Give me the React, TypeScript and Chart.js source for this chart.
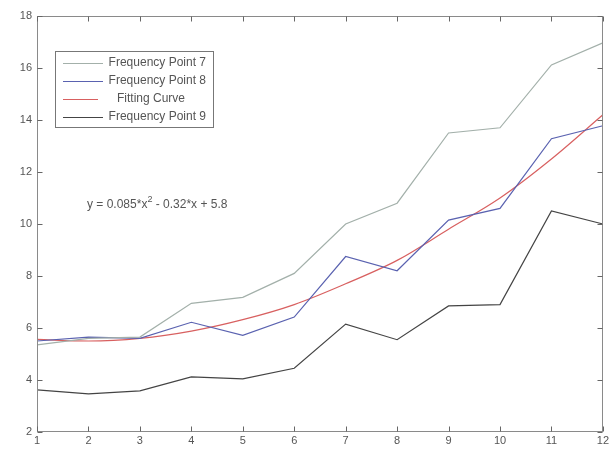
import React, { useEffect, useRef } from "react";
import { Chart, registerables } from "chart.js";
Chart.register(...registerables);

const xValues = [1, 2, 3, 4, 5, 6, 7, 8, 9, 10, 11, 12];
const freqPoint7 = [5.35, 5.6, 5.65, 6.95, 7.18, 8.1, 10.0, 10.8, 13.5, 13.7, 16.12, 16.97];
const freqPoint8 = [5.5, 5.65, 5.6, 6.22, 5.72, 6.42, 8.75, 8.2, 10.15, 10.6, 13.28, 13.78];
const fittingCurve = [5.56, 5.5, 5.6, 5.88, 6.32, 6.9, 7.7, 8.6, 9.8, 11.0, 12.5, 14.2];
const freqPoint9 = [3.62, 3.47, 3.58, 4.12, 4.04, 4.45, 6.15, 5.55, 6.85, 6.9, 10.5, 10.0];
const seriesLabels = ["Frequency Point 7", "Frequency Point 8", "Fitting Curve", "Frequency Point 9"];
const seriesColors = ["#a3b0aa", "#5a62b0", "#d86060", "#444444"];
const yTicks = [2, 4, 6, 8, 10, 12, 14, 16, 18];
const equationMain = "y = 0.085*x";
const equationSup = "2";
const equationRest = " - 0.32*x + 5.8";

const FONT = "'Liberation Sans', Arial, sans-serif";
const TEXT = "#555";

const frameAndExtras = {
  id: "frameAndExtras",
  afterDraw(chart: any) {
    const ctx = chart.ctx;
    const a = chart.chartArea;
    const xs = chart.scales.x;
    const ys = chart.scales.y;
    ctx.save();
    ctx.strokeStyle = "#8a8a8a";
    ctx.lineWidth = 1;
    const L = Math.round(a.left) + 0.5, R = Math.round(a.right) - 0.5;
    const T = Math.round(a.top) + 0.5, B = Math.round(a.bottom) - 0.5;
    ctx.strokeRect(L, T, R - L, B - T);
    ctx.strokeStyle = "#666";
    xValues.forEach((v) => {
      const px = Math.round(xs.getPixelForValue(v)) + 0.5;
      ctx.beginPath();
      ctx.moveTo(px, B); ctx.lineTo(px, B - 5);
      ctx.moveTo(px, T); ctx.lineTo(px, T + 5);
      ctx.stroke();
    });
    yTicks.forEach((v) => {
      const py = Math.round(ys.getPixelForValue(v)) + 0.5;
      ctx.beginPath();
      ctx.moveTo(L, py); ctx.lineTo(L + 5, py);
      ctx.moveTo(R, py); ctx.lineTo(R - 5, py);
      ctx.stroke();
    });

    // legend
    const bx = 55.5, by = 51.5, bw = 158, bh = 76;
    ctx.fillStyle = "#fff";
    ctx.fillRect(bx, by, bw, bh);
    ctx.strokeStyle = "#777";
    ctx.strokeRect(bx, by, bw, bh);
    ctx.font = `12px ${FONT}`;
    ctx.textBaseline = "middle";
    const rows = [63, 81, 99, 117];
    seriesLabels.forEach((label, i) => {
      const y = rows[i] + 0.5;
      ctx.strokeStyle = seriesColors[i];
      ctx.lineWidth = 1.2;
      ctx.beginPath();
      const centered = label === "Fitting Curve";
      ctx.moveTo(63, y); ctx.lineTo(centered ? 98 : 103, y);
      ctx.stroke();
      ctx.fillStyle = TEXT;
      if (centered) {
        ctx.textAlign = "center";
        ctx.fillText(label, 151, rows[i]);
      } else {
        ctx.textAlign = "right";
        ctx.fillText(label, 206, rows[i]);
      }
    });

    // equation
    ctx.fillStyle = TEXT;
    ctx.textAlign = "left";
    ctx.font = `12px ${FONT}`;
    let x0 = 87;
    ctx.fillText(equationMain, x0, 205);
    x0 += ctx.measureText(equationMain).width;
    ctx.font = `9px ${FONT}`;
    ctx.fillText(equationSup, x0, 200);
    x0 += ctx.measureText(equationSup).width;
    ctx.font = `12px ${FONT}`;
    ctx.fillText(equationRest, x0, 205);
    ctx.restore();
  },
};

export default function App() {
  const ref = useRef<HTMLCanvasElement>(null);
  useEffect(() => {
    if (!ref.current) return;
    const mk = (i: number, vals: number[]) => ({
      label: seriesLabels[i],
      data: xValues.map((x, j) => ({ x, y: vals[j] })),
      borderColor: seriesColors[i],
      backgroundColor: seriesColors[i],
      borderWidth: 1.2,
      pointRadius: 0,
      fill: false,
      tension: 0,
    });
    const chart = new Chart(ref.current, {
      type: "line",
      data: {
        datasets: [
          mk(0, freqPoint7),
          mk(1, freqPoint8),
          { ...mk(2, fittingCurve), cubicInterpolationMode: "monotone" as const },
          mk(3, freqPoint9),
        ],
      },
      options: {
        animation: false,
        responsive: false,
        maintainAspectRatio: false,
        layout: { padding: { left: 0, right: 8, top: 16, bottom: 0 } },
        plugins: { legend: { display: false }, tooltip: { enabled: false } },
        scales: {
          x: {
            type: "linear",
            min: 1,
            max: 12,
            afterFit: (s: any) => { s.height = 20; },
            grid: { display: false, drawTicks: false },
            border: { display: false },
            afterBuildTicks: (s: any) => { s.ticks = xValues.map((v) => ({ value: v })); },
            ticks: { color: TEXT, font: { family: FONT, size: 11 }, padding: 2, maxRotation: 0, autoSkip: false },
          },
          y: {
            type: "linear",
            min: 2,
            max: 18,
            afterFit: (s: any) => { s.width = 37; },
            grid: { display: false, drawTicks: false },
            border: { display: false },
            afterBuildTicks: (s: any) => { s.ticks = yTicks.map((v) => ({ value: v })); },
            ticks: { color: TEXT, font: { family: FONT, size: 11 }, padding: 5 },
          },
        },
      },
      plugins: [frameAndExtras],
    });
    return () => chart.destroy();
  }, []);
  return (
    <div style={{ position: "fixed", left: 0, top: 0, width: 611, height: 452, background: "#fff" }}>
      <canvas ref={ref} width={611} height={452} style={{ width: 611, height: 452 }} />
    </div>
  );
}
